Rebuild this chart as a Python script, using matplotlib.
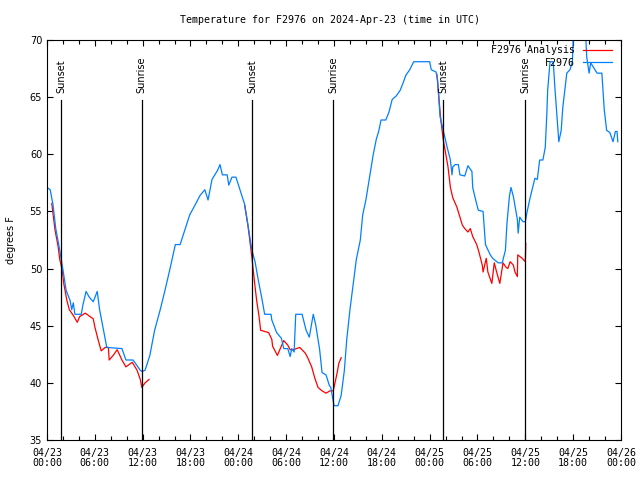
import numpy as np
import pandas as pd
import matplotlib
matplotlib.use("Agg")
import matplotlib.pyplot as plt
import matplotlib.dates as mdates

nan = np.nan

# hours after 2024-04-23 00:00 UTC, temperature in degrees F
obs_hours = [0.0, 0.4, 0.75, 1.1, 1.6, 2.0, 2.4, 2.9, 3.1, 3.3, 3.5, 4.3, 4.5, 4.9, 5.3,
             5.8, 6.3, 6.6, 7.2, 7.5, 9.4, 9.9, 10.8, 11.3, 11.7, 11.9, 12.3, 12.9, 13.5,
             14.2, 14.8, 15.4, 16.1, 16.7, 17.3, 17.9, 18.6, 19.2, 19.8, 20.2, 20.7, 21.4,
             21.7, 22.0, 22.6, 22.8, 23.2, 23.7, 24.2, 24.8, 25.2, 25.7, 26.1, 26.5, 27.0,
             27.3, 28.1, 28.2, 28.8, 29.4, 29.7, 30.2, 30.5, 30.7, 31.0, 31.2, 32.0, 32.5,
             32.9, 33.4, 33.7, 34.2, 34.5, 35.0, 35.4, 35.6, 36.0, 36.5, 36.9, 37.3, 37.6,
             38.0, 38.4, 38.8, 39.3, 39.6, 40.0, 40.5, 40.9, 41.3, 41.6, 41.9, 42.5, 42.9,
             43.3, 43.8, 44.3, 44.7, 45.0, 45.5, 46.0, 48.0, 48.2, 48.8, 49.0, 49.3, 49.7,
             50.2, 50.6, 50.8, 50.9, 51.2, 51.6, 51.8, 52.4, 52.8, 53.3, 53.4, 53.7, 54.1,
             54.7, 55.0, 55.6, 55.9, 56.6, 57.1, 57.5, 57.7, 58.0, 58.2, 58.5, 59.0, 59.1,
             59.3, 59.7, 60.0, 60.2, 60.6, 61.2, 61.5, 61.8, 62.2, 62.5, 62.7, 62.8, 63.1,
             63.5, 63.7, 64.1, 64.2, 64.5, 64.7, 65.2, 65.6, 65.9, 66.0, 66.2, 67.3, 67.6,
             67.7, 68.0, 68.2, 69.0, 69.6, 69.9, 70.2, 70.6, 71.0, 71.3, 71.5, 71.6]
obs_temp = [57.1, 56.9, 55.6, 53.5, 51.6, 49.9, 48.1, 47.2, 46.4, 47.0, 46.0, 46.0, 46.8, 48.0,
            47.5, 47.1, 48.0, 46.4, 44.2, 43.1, 43.0, 42.0, 42.0, 41.5, 41.1, 41.0, 41.1,
            42.4, 44.6, 46.4, 48.1, 49.9, 52.1, 52.1, 53.4, 54.7, 55.6, 56.4, 56.9, 56.0,
            57.8, 58.6, 59.1, 58.2, 58.2, 57.3, 58.0, 58.0, 56.9, 55.6, 53.8, 51.6, 50.6,
            49.0, 47.2, 46.0, 46.0, 45.5, 44.4, 43.9, 43.0, 43.0, 42.3, 43.0, 42.7, 46.0,
            46.0, 44.6, 44.0, 46.0, 45.1, 42.9, 40.9, 40.7, 39.8, 39.6, 38.0, 38.0, 38.9,
            41.1, 43.8, 46.4, 48.6, 50.8, 52.5, 54.7, 56.0, 58.2, 59.9, 61.3, 62.0, 63.0,
            63.0, 63.7, 64.8, 65.1, 65.6, 66.3, 66.9, 67.4, 68.1, 68.1, 67.4, 67.2, 66.5,
            63.3, 62.1, 60.6, 59.5, 58.2, 58.9, 59.1, 59.1, 58.2, 58.1, 59.0, 58.5, 57.1,
            56.2, 55.1, 55.0, 52.1, 51.2, 50.9, 50.5, 50.5, 51.6, 54.0, 56.3, 57.1, 56.3,
            54.3, 53.1, 54.5, 54.1, 54.1, 54.9, 56.2, 57.9, 57.8, 59.5, 59.5, 60.6, 63.6,
            65.6, 68.1, 68.1, 65.9, 62.1, 61.1, 62.1, 64.1, 67.1, 67.4, 68.1, 70.0, 71.0,
            71.0, 70.0, 68.5, 67.1, 68.0, 67.1, 67.1, 63.9, 62.1, 61.9, 61.1, 62.0, 62.0,
            61.1]

ana_hours = [0.6, 1.0, 1.4, 1.6, 1.9, 2.1, 2.5, 2.8, 3.3, 3.8, 4.1, 4.8, 5.8, 6.0, 6.4, 6.8,
             7.3, 7.7, 7.8, 8.3, 8.8, 9.4, 9.9, 10.7, 11.3, 11.7, 11.9, 12.3, 12.8, 13.0,
             24.8, 25.2, 25.7, 26.0, 26.3, 26.6, 26.8, 27.3, 27.8, 28.2, 28.3, 28.9, 29.2,
             29.7, 30.2, 30.5, 30.9, 31.7, 32.4, 32.7, 33.2, 33.6, 34.0, 34.5, 35.0, 35.5,
             35.9, 36.0, 36.4, 36.6, 36.9, 37.1,
             48.9, 49.2, 49.4, 49.7, 50.0, 50.3, 50.6, 50.9, 51.4, 51.8, 52.1, 52.4, 52.8,
             53.1, 53.4, 53.9, 54.2, 54.6, 54.7, 55.1, 55.3, 55.8, 56.1, 56.4, 56.8, 57.2,
             57.6, 57.8, 58.1, 58.5, 58.7, 59.0, 59.05, 59.6, 60.0, 60.05]
ana_temp = [55.7, 53.4, 51.9, 50.8, 49.9, 48.7, 47.2, 46.4, 45.9, 45.3, 45.8, 46.1, 45.6, 44.9,
            43.8, 42.8, 43.1, 43.1, 42.0, 42.4, 42.9, 42.0, 41.4, 41.8, 41.1, 40.3, 39.6,
            40.0, 40.3, nan,
            55.5, 53.8, 51.0, 49.0, 47.2, 45.8, 44.6, 44.5, 44.4, 43.8, 43.2, 42.4, 42.9,
            43.7, 43.3, 42.9, 42.9, 43.1, 42.6, 42.2, 41.4, 40.4, 39.6, 39.3, 39.1, 39.3,
            39.3, 39.6, 40.9, 41.7, 42.2, nan,
            67.0, 64.6, 63.0, 61.3, 60.1, 58.9, 57.1, 56.2, 55.4, 54.5, 53.8, 53.5, 53.2,
            53.5, 52.8, 52.1, 51.4, 50.3, 49.7, 50.9, 49.7, 48.7, 50.5, 49.7, 48.7, 50.5,
            50.1, 50.0, 50.6, 50.3, 49.7, 49.3, 51.2, 50.9, 50.6, 52.2]

sun_hours = [1.75, 11.9, 25.7, 35.9, 49.7, 60.0]
sun_labels = ["Sunset", "Sunrise", "Sunset", "Sunrise", "Sunset", "Sunrise"]

base = pd.Timestamp("2024-04-23 00:00")
def to_time(h):
    return base + pd.to_timedelta(np.array(h, dtype=float), unit="h")

mono = "DejaVu Sans Mono"

fig = plt.figure(figsize=(6.4, 4.8), dpi=100)
ax = fig.add_axes([47 / 640, 40 / 480, 574 / 640, 400 / 480])

ax.plot(to_time(ana_hours), ana_temp, color="#ff0000", lw=0.9, label="F2976 Analysis")
ax.plot(to_time(obs_hours), obs_temp, color="#0080ff", lw=0.9, label="F2976")

for h, lab in zip(sun_hours, sun_labels):
    t = to_time([h])[0]
    ax.plot([t, t], [35, 64.75], color="black", lw=0.9)
    ax.text(t, 65.4, lab, rotation=90, ha="center", va="bottom", fontsize=7,
            family="DejaVu Sans")

ax.set_xlim(base, base + pd.Timedelta(hours=72))
ax.set_ylim(35, 70)
ax.set_yticks(np.arange(35, 71, 5))
ax.xaxis.set_major_locator(mdates.HourLocator(byhour=[0, 6, 12, 18]))
ax.xaxis.set_minor_locator(mdates.HourLocator(interval=2))
ax.xaxis.set_major_formatter(mdates.DateFormatter("%m/%d\n%H:%M"))
ax.tick_params(which="both", direction="in", top=True, right=True, length=4, width=0.8)
ax.tick_params(which="minor", length=3)
ax.tick_params(axis="x", pad=6)
for lab in ax.get_xticklabels():
    lab.set_fontfamily(mono)
    lab.set_fontsize(7.2)
    lab.set_linespacing(1.0)
for lab in ax.get_yticklabels():
    lab.set_fontfamily("DejaVu Sans")
    lab.set_fontsize(7)

ax.set_ylabel("degrees F", fontsize=7, labelpad=10)
fig.text(330 / 640, 1 - 20 / 480, "Temperature for F2976 on 2024-Apr-23 (time in UTC)",
         ha="center", va="center", fontsize=7.2, family=mono)

leg = ax.legend(loc="upper right", bbox_to_anchor=(0.984, 0.987), frameon=False,
                markerfirst=False, handlelength=2.9, handletextpad=0.8,
                borderaxespad=0.0, borderpad=0.0, labelspacing=0.25,
                prop={"family": mono, "size": 7.2})

fig.savefig("out.png", dpi=100)
